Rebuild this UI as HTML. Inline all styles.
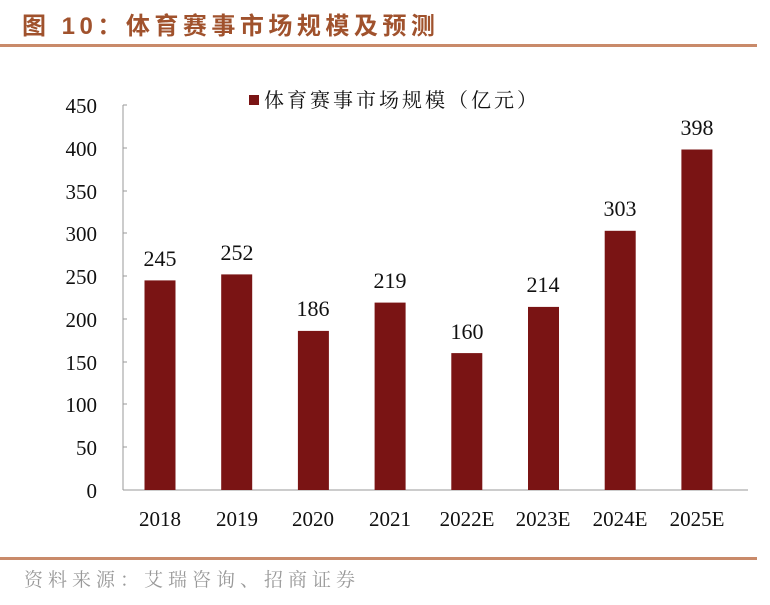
<!DOCTYPE html>
<html><head><meta charset="utf-8"><style>
body{margin:0;background:#fff;width:770px;height:600px;overflow:hidden;}
svg text{font-family:"Liberation Serif","Noto Serif CJK SC",serif;}
</style></head><body>
<svg width="770" height="600" viewBox="0 0 770 600" xmlns="http://www.w3.org/2000/svg">
<text x="22" y="34" font-size="24" font-weight="bold" fill="#a0522d" letter-spacing="4.5" style="font-family:'Liberation Sans','Noto Sans CJK SC',sans-serif">图 10：体育赛事市场规模及预测</text>
<rect x="0" y="44" width="757" height="3" fill="#c98a6a"/>
<rect x="0" y="557" width="757" height="3" fill="#c98a6a"/>
<text x="24" y="586" font-size="19" fill="#999" letter-spacing="5">资料来源：艾瑞咨询、招商证券</text>
<rect x="249" y="95" width="10" height="10" fill="#7a1414"/>
<text x="264" y="107" font-size="20" fill="#111" letter-spacing="3">体育赛事市场规模（亿元）</text>
<g stroke="#999" stroke-width="1">
<line x1="123" y1="105" x2="123" y2="490"/>
<line x1="123" y1="490" x2="748" y2="490"/>
<line x1="123" y1="105" x2="127" y2="105"/><line x1="123" y1="148" x2="127" y2="148"/>
<line x1="123" y1="191" x2="127" y2="191"/><line x1="123" y1="233" x2="127" y2="233"/>
<line x1="123" y1="276" x2="127" y2="276"/><line x1="123" y1="319" x2="127" y2="319"/>
<line x1="123" y1="362" x2="127" y2="362"/><line x1="123" y1="404" x2="127" y2="404"/>
<line x1="123" y1="447" x2="127" y2="447"/>
</g>
<g font-size="21" fill="#111" text-anchor="end">
<text x="97" y="113">450</text><text x="97" y="156">400</text><text x="97" y="199">350</text>
<text x="97" y="241">300</text><text x="97" y="284">250</text><text x="97" y="327">200</text>
<text x="97" y="370">150</text><text x="97" y="412">100</text><text x="97" y="455">50</text>
<text x="97" y="498">0</text>
</g>
<g fill="#7a1414">
<rect x="144.5" y="280.4" width="31" height="209.6"/>
<rect x="221.2" y="274.4" width="31" height="215.6"/>
<rect x="297.9" y="330.9" width="31" height="159.1"/>
<rect x="374.6" y="302.6" width="31" height="187.4"/>
<rect x="451.3" y="353.1" width="31" height="136.9"/>
<rect x="528" y="306.9" width="31" height="183.1"/>
<rect x="604.7" y="230.8" width="31" height="259.2"/>
<rect x="681.4" y="149.5" width="31" height="340.5"/>
</g>
<g font-size="22" fill="#111" text-anchor="middle">
<text x="160" y="266">245</text><text x="237" y="260">252</text><text x="313" y="316">186</text>
<text x="390" y="288">219</text><text x="467" y="339">160</text><text x="543" y="292">214</text>
<text x="620" y="216">303</text><text x="697" y="135">398</text>
</g>
<g font-size="21" fill="#111" text-anchor="middle">
<text x="160" y="526">2018</text><text x="237" y="526">2019</text><text x="313" y="526">2020</text>
<text x="390" y="526">2021</text><text x="467" y="526">2022E</text><text x="543" y="526">2023E</text>
<text x="620" y="526">2024E</text><text x="697" y="526">2025E</text>
</g>
</svg>
</body></html>
